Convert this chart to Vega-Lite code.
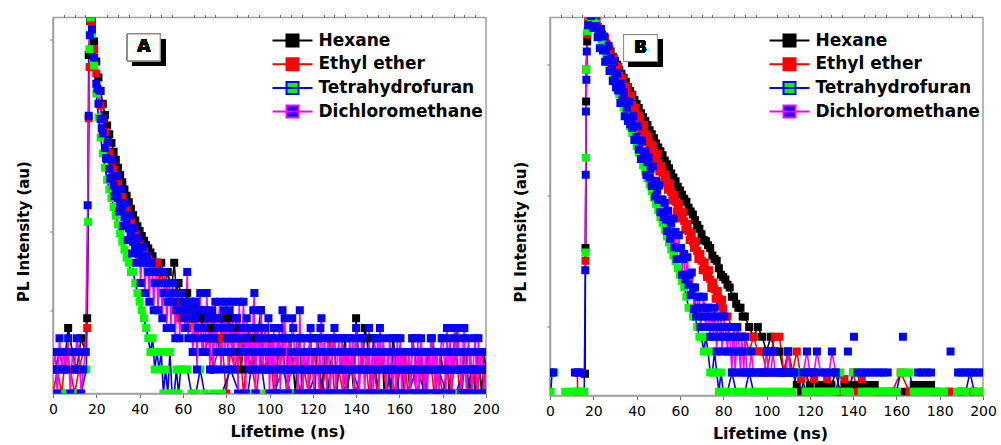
{
"$schema": "https://vega.github.io/schema/vega-lite/v6.json",
"padding": {"left": 15, "top": 12.5, "right": 5, "bottom": 0},
"bounds": "flush",
"spacing": 64,
"datasets": {
"a": [
{"s":"H","t":1,"v":2},{"s":"H","t":3,"v":3.3},{"s":"H","t":5,"v":2},{"s":"H","t":7,"v":6.6},{"s":"H","t":9,"v":3.3},{"s":"H","t":11,"v":2},{"s":"H","t":13,"v":4.9},{"s":"H","t":15,"v":3.3},{"s":"H","t":15.8,"v":8.7},{"s":"H","t":16.5,"v":17000},{"s":"H","t":17.2,"v":45000},
{"s":"H","t":18,"v":44700},{"s":"H","t":19,"v":25100},{"s":"H","t":20,"v":14100},{"s":"H","t":21,"v":8910},{"s":"H","t":22,"v":6030},{"s":"H","t":23,"v":4170},{"s":"H","t":24,"v":3020},{"s":"H","t":25,"v":2240},{"s":"H","t":26,"v":1740},{"s":"H","t":27,"v":1350},{"s":"H","t":28,"v":1050},{"s":"H","t":29,"v":832},{"s":"H","t":30,"v":661},{"s":"H","t":31,"v":537},{"s":"H","t":32,"v":437},{"s":"H","t":33,"v":355},{"s":"H","t":34,"v":295},{"s":"H","t":35,"v":245},{"s":"H","t":36,"v":204},{"s":"H","t":37,"v":170},{"s":"H","t":38,"v":145},{"s":"H","t":39,"v":123},{"s":"H","t":40,"v":107},{"s":"H","t":41,"v":93},{"s":"H","t":42,"v":81},{"s":"H","t":43,"v":72},{"s":"H","t":44,"v":65},{"s":"H","t":45,"v":58},{"s":"H","t":46,"v":52},{"s":"H","t":47,"v":43},{"s":"H","t":48,"v":43},{"s":"H","t":49,"v":33},{"s":"H","t":50,"v":43},{"s":"H","t":51,"v":33},{"s":"H","t":52,"v":24},{"s":"H","t":53,"v":33},{"s":"H","t":54,"v":24},{"s":"H","t":55,"v":24},{"s":"H","t":56,"v":43},{"s":"H","t":57,"v":18},{"s":"H","t":58,"v":24},{"s":"H","t":59,"v":18},{"s":"H","t":60,"v":14},
{"s":"H","t":61,"v":11},{"s":"H","t":62,"v":18},{"s":"H","t":63,"v":14},{"s":"H","t":64,"v":11},{"s":"H","t":65,"v":8.7},{"s":"H","t":66,"v":14},{"s":"H","t":67,"v":11},{"s":"H","t":68,"v":8.7},{"s":"H","t":69,"v":6.6},{"s":"H","t":70,"v":11},{"s":"H","t":71,"v":8.7},{"s":"H","t":72,"v":6.6},{"s":"H","t":73,"v":4.9},{"s":"H","t":74,"v":8.7},{"s":"H","t":75,"v":6.6},{"s":"H","t":76,"v":4.9},{"s":"H","t":77,"v":3.3},{"s":"H","t":78,"v":8.7},{"s":"H","t":79,"v":4.9},{"s":"H","t":80,"v":6.6},{"s":"H","t":81,"v":8.7},{"s":"H","t":82,"v":4.9},{"s":"H","t":83,"v":3.3},{"s":"H","t":84,"v":6.6},{"s":"H","t":85,"v":4.9},{"s":"H","t":86,"v":3.3},{"s":"H","t":87,"v":2},{"s":"H","t":88,"v":4.9},{"s":"H","t":89,"v":3.3},{"s":"H","t":90,"v":6.6},{"s":"H","t":91,"v":4.9},{"s":"H","t":92,"v":3.3},{"s":"H","t":93,"v":2},{"s":"H","t":94,"v":4.9},{"s":"H","t":95,"v":6.6},{"s":"H","t":96,"v":11},{"s":"H","t":97,"v":3.3},{"s":"H","t":98,"v":3.3},{"s":"H","t":99,"v":2},{"s":"H","t":100,"v":4.9},
{"s":"H","t":101,"v":4.9},{"s":"H","t":102,"v":2},{"s":"H","t":103,"v":1},{"s":"H","t":104,"v":3.3},{"s":"H","t":105,"v":3.3},{"s":"H","t":106,"v":4.9},{"s":"H","t":107,"v":2},{"s":"H","t":108,"v":2},{"s":"H","t":109,"v":4.9},{"s":"H","t":110,"v":3.3},{"s":"H","t":111,"v":2},{"s":"H","t":112,"v":1},{"s":"H","t":113,"v":3.3},{"s":"H","t":114,"v":4.9},{"s":"H","t":115,"v":1},{"s":"H","t":116,"v":2},{"s":"H","t":117,"v":2},{"s":"H","t":118,"v":3.3},{"s":"H","t":119,"v":4.9},{"s":"H","t":120,"v":2},{"s":"H","t":121,"v":1},{"s":"H","t":122,"v":4.9},{"s":"H","t":123,"v":3.3},{"s":"H","t":124,"v":1},{"s":"H","t":125,"v":2},{"s":"H","t":126,"v":3.3},{"s":"H","t":127,"v":1},{"s":"H","t":128,"v":2},{"s":"H","t":129,"v":3.3},{"s":"H","t":130,"v":4.9},{"s":"H","t":131,"v":1},{"s":"H","t":132,"v":2},{"s":"H","t":133,"v":2},{"s":"H","t":134,"v":3.3},{"s":"H","t":135,"v":4.9},{"s":"H","t":136,"v":1},{"s":"H","t":137,"v":2},{"s":"H","t":138,"v":2},{"s":"H","t":139,"v":1},{"s":"H","t":140,"v":8.7},{"s":"H","t":141,"v":3.3},{"s":"H","t":142,"v":3.3},{"s":"H","t":143,"v":2},{"s":"H","t":144,"v":6.6},{"s":"H","t":145,"v":4.9},{"s":"H","t":146,"v":2},{"s":"H","t":147,"v":1},{"s":"H","t":148,"v":4.9},{"s":"H","t":149,"v":2},{"s":"H","t":150,"v":1},
{"s":"H","t":151,"v":3.3},{"s":"H","t":152,"v":3.3},{"s":"H","t":153,"v":1},{"s":"H","t":154,"v":2},{"s":"H","t":155,"v":2},{"s":"H","t":156,"v":1},{"s":"H","t":157,"v":4.9},{"s":"H","t":158,"v":3.3},{"s":"H","t":159,"v":1},{"s":"H","t":160,"v":2},{"s":"H","t":161,"v":3.3},{"s":"H","t":162,"v":1},{"s":"H","t":163,"v":2},{"s":"H","t":164,"v":2},{"s":"H","t":165,"v":1},{"s":"H","t":166,"v":4.9},{"s":"H","t":167,"v":3.3},{"s":"H","t":168,"v":2},{"s":"H","t":169,"v":2},{"s":"H","t":170,"v":3.3},{"s":"H","t":171,"v":1},{"s":"H","t":172,"v":1},{"s":"H","t":173,"v":3.3},{"s":"H","t":174,"v":2},{"s":"H","t":175,"v":2},{"s":"H","t":176,"v":3.3},{"s":"H","t":177,"v":1},{"s":"H","t":178,"v":1},{"s":"H","t":179,"v":3.3},{"s":"H","t":180,"v":2},{"s":"H","t":181,"v":2},{"s":"H","t":182,"v":3.3},{"s":"H","t":183,"v":1},{"s":"H","t":184,"v":2},{"s":"H","t":185,"v":3.3},{"s":"H","t":186,"v":6.6},{"s":"H","t":187,"v":2},{"s":"H","t":188,"v":2},{"s":"H","t":189,"v":1},{"s":"H","t":190,"v":3.3},{"s":"H","t":191,"v":3.3},{"s":"H","t":192,"v":1},{"s":"H","t":193,"v":2},{"s":"H","t":194,"v":2},{"s":"H","t":195,"v":1},{"s":"H","t":196,"v":3.3},{"s":"H","t":197,"v":2},{"s":"H","t":198,"v":1},{"s":"H","t":199,"v":3.3},{"s":"H","t":200,"v":2},
{"s":"E","t":0,"v":1},{"s":"E","t":2,"v":2},{"s":"E","t":4,"v":1},{"s":"E","t":6,"v":3.3},{"s":"E","t":8,"v":2},{"s":"E","t":10,"v":1},{"s":"E","t":12,"v":2},{"s":"E","t":14,"v":3.3},{"s":"E","t":15.8,"v":6.6},{"s":"E","t":16.5,"v":2760},{"s":"E","t":16.9,"v":12000},{"s":"E","t":17.5,"v":45000},
{"s":"E","t":18,"v":39800},{"s":"E","t":19,"v":20000},{"s":"E","t":20,"v":10000},{"s":"E","t":21,"v":6030},{"s":"E","t":22,"v":3980},{"s":"E","t":23,"v":2690},{"s":"E","t":24,"v":1860},{"s":"E","t":25,"v":1350},{"s":"E","t":26,"v":1020},{"s":"E","t":27,"v":794},{"s":"E","t":28,"v":631},{"s":"E","t":29,"v":513},{"s":"E","t":30,"v":417},{"s":"E","t":31,"v":347},{"s":"E","t":32,"v":288},{"s":"E","t":33,"v":240},{"s":"E","t":34,"v":200},{"s":"E","t":35,"v":166},{"s":"E","t":36,"v":138},{"s":"E","t":37,"v":115},{"s":"E","t":38,"v":98},{"s":"E","t":39,"v":85},{"s":"E","t":40,"v":74},{"s":"E","t":41,"v":66},{"s":"E","t":42,"v":59},{"s":"E","t":43,"v":52},{"s":"E","t":44,"v":48},{"s":"E","t":45,"v":44},{"s":"E","t":46,"v":40},{"s":"E","t":47,"v":33},{"s":"E","t":48,"v":43},{"s":"E","t":49,"v":24},{"s":"E","t":50,"v":33},{"s":"E","t":51,"v":24},{"s":"E","t":52,"v":18},{"s":"E","t":53,"v":24},{"s":"E","t":54,"v":14},{"s":"E","t":55,"v":18},{"s":"E","t":56,"v":14},{"s":"E","t":57,"v":11},{"s":"E","t":58,"v":14},{"s":"E","t":59,"v":8.7},{"s":"E","t":60,"v":11},
{"s":"E","t":62,"v":6.6},{"s":"E","t":64,"v":8.7},{"s":"E","t":66,"v":4.9},{"s":"E","t":68,"v":6.6},{"s":"E","t":70,"v":3.3},{"s":"E","t":72,"v":4.9},{"s":"E","t":74,"v":2},{"s":"E","t":76,"v":3.3},{"s":"E","t":78,"v":4.9},{"s":"E","t":80,"v":1},{"s":"E","t":82,"v":3.3},{"s":"E","t":84,"v":2},{"s":"E","t":86,"v":4.9},{"s":"E","t":88,"v":1},{"s":"E","t":90,"v":3.3},{"s":"E","t":92,"v":2},{"s":"E","t":94,"v":1},{"s":"E","t":96,"v":3.3},{"s":"E","t":98,"v":2},{"s":"E","t":100,"v":4.9},{"s":"E","t":102,"v":1},{"s":"E","t":104,"v":2},{"s":"E","t":106,"v":3.3},{"s":"E","t":108,"v":1},{"s":"E","t":110,"v":2},{"s":"E","t":112,"v":3.3},{"s":"E","t":114,"v":1},{"s":"E","t":116,"v":2},{"s":"E","t":118,"v":1},{"s":"E","t":120,"v":3.3},{"s":"E","t":122,"v":2},{"s":"E","t":124,"v":1},{"s":"E","t":126,"v":2},{"s":"E","t":128,"v":4.9},{"s":"E","t":130,"v":1},{"s":"E","t":132,"v":2},{"s":"E","t":134,"v":1},{"s":"E","t":136,"v":3.3},{"s":"E","t":138,"v":2},{"s":"E","t":140,"v":1},{"s":"E","t":142,"v":2},{"s":"E","t":144,"v":3.3},{"s":"E","t":146,"v":1},{"s":"E","t":148,"v":2},{"s":"E","t":150,"v":1},{"s":"E","t":152,"v":3.3},{"s":"E","t":154,"v":1},{"s":"E","t":156,"v":2},{"s":"E","t":158,"v":1},{"s":"E","t":160,"v":2},{"s":"E","t":162,"v":3.3},{"s":"E","t":164,"v":1},{"s":"E","t":166,"v":2},{"s":"E","t":168,"v":1},{"s":"E","t":170,"v":2},{"s":"E","t":172,"v":1},{"s":"E","t":174,"v":3.3},{"s":"E","t":176,"v":1},{"s":"E","t":178,"v":2},{"s":"E","t":180,"v":1},{"s":"E","t":182,"v":2},{"s":"E","t":184,"v":1},{"s":"E","t":186,"v":3.3},{"s":"E","t":188,"v":1},{"s":"E","t":190,"v":2},{"s":"E","t":192,"v":1},{"s":"E","t":194,"v":2},{"s":"E","t":196,"v":1},{"s":"E","t":198,"v":3.3},{"s":"E","t":200,"v":1},
{"s":"T","t":1,"v":1},{"s":"T","t":5,"v":1},{"s":"T","t":9,"v":1},{"s":"T","t":13,"v":1},{"s":"T","t":15.4,"v":2},{"s":"T","t":16.2,"v":139},{"s":"T","t":16.8,"v":20000},{"s":"T","t":17.4,"v":50000},
{"s":"T","t":18,"v":31600},{"s":"T","t":19,"v":12600},{"s":"T","t":20,"v":5620},{"s":"T","t":21,"v":2820},{"s":"T","t":22,"v":1580},{"s":"T","t":23,"v":1000},{"s":"T","t":24,"v":661},{"s":"T","t":25,"v":468},{"s":"T","t":26,"v":355},{"s":"T","t":27,"v":275},{"s":"T","t":28,"v":214},{"s":"T","t":29,"v":166},{"s":"T","t":30,"v":129},{"s":"T","t":31,"v":100},{"s":"T","t":32,"v":79},{"s":"T","t":33,"v":63},{"s":"T","t":34,"v":50},{"s":"T","t":35,"v":43},{"s":"T","t":36,"v":33},{"s":"T","t":37,"v":33},{"s":"T","t":38,"v":24},{"s":"T","t":39,"v":18},{"s":"T","t":40,"v":14},{"s":"T","t":41,"v":11},{"s":"T","t":42,"v":8.7},{"s":"T","t":43,"v":6.6},{"s":"T","t":44,"v":4.9},{"s":"T","t":45,"v":3.3},{"s":"T","t":46,"v":4.9},{"s":"T","t":47,"v":2},{"s":"T","t":48,"v":3.3},{"s":"T","t":49,"v":2},{"s":"T","t":50,"v":3.3},{"s":"T","t":51,"v":1},{"s":"T","t":52,"v":2},{"s":"T","t":53,"v":1},{"s":"T","t":54,"v":3.3},{"s":"T","t":55,"v":1},{"s":"T","t":56,"v":1},{"s":"T","t":57,"v":2},{"s":"T","t":58,"v":1},{"s":"T","t":59,"v":2},{"s":"T","t":60,"v":2},
{"s":"T","t":62,"v":2},{"s":"T","t":64,"v":1},{"s":"T","t":66,"v":1},{"s":"T","t":68,"v":2},{"s":"T","t":70,"v":1},{"s":"T","t":74,"v":1},{"s":"T","t":78,"v":1},{"s":"T","t":82,"v":2},{"s":"T","t":86,"v":1},{"s":"T","t":90,"v":1},{"s":"T","t":94,"v":6.6},{"s":"T","t":98,"v":1},{"s":"T","t":102,"v":1},{"s":"T","t":106,"v":2},{"s":"T","t":110,"v":1},{"s":"T","t":114,"v":1},{"s":"T","t":118,"v":1},{"s":"T","t":122,"v":2},{"s":"T","t":126,"v":1},{"s":"T","t":130,"v":1},{"s":"T","t":134,"v":1},{"s":"T","t":138,"v":2},{"s":"T","t":142,"v":1},{"s":"T","t":146,"v":1},{"s":"T","t":150,"v":1},{"s":"T","t":154,"v":1},{"s":"T","t":157,"v":3.3},{"s":"T","t":160,"v":1},{"s":"T","t":164,"v":1},{"s":"T","t":168,"v":2},{"s":"T","t":172,"v":1},{"s":"T","t":175,"v":4.9},{"s":"T","t":178,"v":2},{"s":"T","t":182,"v":1},{"s":"T","t":186,"v":1},{"s":"T","t":190,"v":2},{"s":"T","t":194,"v":1},{"s":"T","t":198,"v":1},
{"s":"D","t":0,"v":2},{"s":"D","t":1,"v":3.3},{"s":"D","t":2,"v":1},{"s":"D","t":3,"v":4.9},{"s":"D","t":4,"v":2},{"s":"D","t":5,"v":3.3},{"s":"D","t":6,"v":2},{"s":"D","t":7,"v":4.9},{"s":"D","t":8,"v":1},{"s":"D","t":9,"v":3.3},{"s":"D","t":10,"v":2},{"s":"D","t":11,"v":4.9},{"s":"D","t":12,"v":3.3},{"s":"D","t":13,"v":1},{"s":"D","t":14,"v":2},{"s":"D","t":15,"v":3.3},
{"s":"D","t":16,"v":225},{"s":"D","t":16.5,"v":2950},{"s":"D","t":17,"v":30000},{"s":"D","t":17.6,"v":60000},
{"s":"D","t":18,"v":35500},{"s":"D","t":19,"v":15800},{"s":"D","t":20,"v":7410},{"s":"D","t":21,"v":4170},{"s":"D","t":22,"v":2690},{"s":"D","t":23,"v":1780},{"s":"D","t":24,"v":1170},{"s":"D","t":25,"v":851},{"s":"D","t":26,"v":646},{"s":"D","t":27,"v":501},{"s":"D","t":28,"v":398},{"s":"D","t":29,"v":324},{"s":"D","t":30,"v":275},{"s":"D","t":31,"v":234},{"s":"D","t":32,"v":195},{"s":"D","t":33,"v":162},{"s":"D","t":34,"v":138},{"s":"D","t":35,"v":115},{"s":"D","t":36,"v":95},{"s":"D","t":37,"v":79},{"s":"D","t":38,"v":69},{"s":"D","t":39,"v":62},{"s":"D","t":40,"v":55},{"s":"D","t":41,"v":50},{"s":"D","t":42,"v":43},{"s":"D","t":43,"v":43},{"s":"D","t":44,"v":33},{"s":"D","t":45,"v":43},{"s":"D","t":46,"v":33},{"s":"D","t":47,"v":24},{"s":"D","t":48,"v":33},{"s":"D","t":49,"v":24},{"s":"D","t":50,"v":24},{"s":"D","t":51,"v":18},{"s":"D","t":52,"v":24},{"s":"D","t":53,"v":14},{"s":"D","t":54,"v":18},{"s":"D","t":55,"v":24},{"s":"D","t":56,"v":14},{"s":"D","t":57,"v":11},{"s":"D","t":58,"v":18},{"s":"D","t":59,"v":11},{"s":"D","t":60,"v":14},
{"s":"D","t":20.5,"v":6453},{"s":"D","t":21.5,"v":6096},{"s":"D","t":22.5,"v":2062},{"s":"D","t":23.5,"v":2724},{"s":"D","t":24.5,"v":879},{"s":"D","t":25.5,"v":1381},{"s":"D","t":26.5,"v":479},{"s":"D","t":27.5,"v":822},{"s":"D","t":28.5,"v":292},{"s":"D","t":29.5,"v":519},{"s":"D","t":30.5,"v":188},{"s":"D","t":31.5,"v":354},{"s":"D","t":32.5,"v":124},{"s":"D","t":33.5,"v":240},{"s":"D","t":34.5,"v":83},{"s":"D","t":35.5,"v":168},{"s":"D","t":36.5,"v":56},{"s":"D","t":37.5,"v":116},{"s":"D","t":38.5,"v":43},{"s":"D","t":39.5,"v":87},{"s":"D","t":40.5,"v":24},{"s":"D","t":41.5,"v":68},{"s":"D","t":42.5,"v":18},{"s":"D","t":43.5,"v":52},{"s":"D","t":44.5,"v":14},{"s":"D","t":45.5,"v":43},{"s":"D","t":46.5,"v":11},{"s":"D","t":47.5,"v":33},{"s":"D","t":48.5,"v":11},{"s":"D","t":49.5,"v":24},{"s":"D","t":50.5,"v":8.7},{"s":"D","t":51.5,"v":33},{"s":"D","t":52.5,"v":6.6},{"s":"D","t":53.5,"v":24},{"s":"D","t":54.5,"v":6.6},{"s":"D","t":55.5,"v":24},{"s":"D","t":56.5,"v":4.9},{"s":"D","t":57.5,"v":18},{"s":"D","t":58.5,"v":4.9},{"s":"D","t":59.5,"v":18},
{"s":"D","t":61,"v":6.6},{"s":"D","t":62,"v":33},{"s":"D","t":63,"v":8.7},{"s":"D","t":64,"v":11},{"s":"D","t":65,"v":4.9},{"s":"D","t":66,"v":14},{"s":"D","t":67,"v":6.6},{"s":"D","t":68,"v":18},{"s":"D","t":69,"v":3.3},{"s":"D","t":70,"v":11},{"s":"D","t":71,"v":18},{"s":"D","t":72,"v":4.9},{"s":"D","t":73,"v":8.7},{"s":"D","t":74,"v":2},{"s":"D","t":75,"v":14},{"s":"D","t":76,"v":6.6},{"s":"D","t":77,"v":14},{"s":"D","t":78,"v":3.3},{"s":"D","t":79,"v":11},{"s":"D","t":80,"v":14},{"s":"D","t":81,"v":2},{"s":"D","t":82,"v":6.6},{"s":"D","t":83,"v":14},{"s":"D","t":84,"v":4.9},{"s":"D","t":85,"v":8.7},{"s":"D","t":86,"v":14},{"s":"D","t":87,"v":3.3},{"s":"D","t":88,"v":14},{"s":"D","t":89,"v":1},{"s":"D","t":90,"v":4.9},{"s":"D","t":91,"v":6.6},{"s":"D","t":92,"v":2},{"s":"D","t":93,"v":18},{"s":"D","t":94,"v":3.3},{"s":"D","t":95,"v":4.9},{"s":"D","t":96,"v":11},{"s":"D","t":97,"v":2},{"s":"D","t":98,"v":6.6},{"s":"D","t":99,"v":3.3},{"s":"D","t":100,"v":1},
{"s":"D","t":101,"v":4.9},{"s":"D","t":102,"v":6.6},{"s":"D","t":103,"v":2},{"s":"D","t":104,"v":3.3},{"s":"D","t":105,"v":1},{"s":"D","t":106,"v":11},{"s":"D","t":107,"v":8.7},{"s":"D","t":108,"v":2},{"s":"D","t":109,"v":4.9},{"s":"D","t":110,"v":3.3},{"s":"D","t":111,"v":6.6},{"s":"D","t":112,"v":2},{"s":"D","t":113,"v":1},{"s":"D","t":114,"v":11},{"s":"D","t":115,"v":3.3},{"s":"D","t":116,"v":4.9},{"s":"D","t":117,"v":2},{"s":"D","t":118,"v":1},{"s":"D","t":119,"v":6.6},{"s":"D","t":120,"v":3.3},{"s":"D","t":121,"v":2},{"s":"D","t":122,"v":4.9},{"s":"D","t":123,"v":1},{"s":"D","t":124,"v":8.7},{"s":"D","t":125,"v":3.3},{"s":"D","t":126,"v":2},{"s":"D","t":127,"v":4.9},{"s":"D","t":128,"v":1},{"s":"D","t":129,"v":3.3},{"s":"D","t":130,"v":6.6},{"s":"D","t":131,"v":2},{"s":"D","t":132,"v":4.9},{"s":"D","t":133,"v":3.3},{"s":"D","t":134,"v":1},{"s":"D","t":135,"v":2},{"s":"D","t":136,"v":3.3},{"s":"D","t":137,"v":4.9},{"s":"D","t":138,"v":2},{"s":"D","t":139,"v":1},{"s":"D","t":140,"v":6.6},{"s":"D","t":141,"v":3.3},{"s":"D","t":142,"v":2},{"s":"D","t":143,"v":4.9},{"s":"D","t":144,"v":1},{"s":"D","t":145,"v":3.3},{"s":"D","t":146,"v":6.6},{"s":"D","t":147,"v":2},{"s":"D","t":148,"v":1},{"s":"D","t":149,"v":3.3},{"s":"D","t":150,"v":4.9},
{"s":"D","t":151,"v":6.6},{"s":"D","t":152,"v":2},{"s":"D","t":153,"v":3.3},{"s":"D","t":154,"v":1},{"s":"D","t":155,"v":2},{"s":"D","t":156,"v":3.3},{"s":"D","t":157,"v":1},{"s":"D","t":158,"v":2},{"s":"D","t":159,"v":4.9},{"s":"D","t":160,"v":3.3},{"s":"D","t":161,"v":1},{"s":"D","t":162,"v":2},{"s":"D","t":163,"v":3.3},{"s":"D","t":164,"v":2},{"s":"D","t":165,"v":1},{"s":"D","t":166,"v":4.9},{"s":"D","t":167,"v":3.3},{"s":"D","t":168,"v":2},{"s":"D","t":169,"v":1},{"s":"D","t":170,"v":4.9},{"s":"D","t":171,"v":2},{"s":"D","t":172,"v":3.3},{"s":"D","t":173,"v":1},{"s":"D","t":174,"v":2},{"s":"D","t":175,"v":4.9},{"s":"D","t":176,"v":3.3},{"s":"D","t":177,"v":2},{"s":"D","t":178,"v":1},{"s":"D","t":179,"v":3.3},{"s":"D","t":180,"v":4.9},{"s":"D","t":181,"v":2},{"s":"D","t":182,"v":6.6},{"s":"D","t":183,"v":3.3},{"s":"D","t":184,"v":1},{"s":"D","t":185,"v":2},{"s":"D","t":186,"v":4.9},{"s":"D","t":187,"v":6.6},{"s":"D","t":188,"v":3.3},{"s":"D","t":189,"v":2},{"s":"D","t":190,"v":6.6},{"s":"D","t":191,"v":1},{"s":"D","t":192,"v":4.9},{"s":"D","t":193,"v":3.3},{"s":"D","t":194,"v":2},{"s":"D","t":195,"v":4.9},{"s":"D","t":196,"v":1},{"s":"D","t":197,"v":2},{"s":"D","t":198,"v":3.3},{"s":"D","t":199,"v":1},{"s":"D","t":200,"v":2},
{"s":"D","t":60.5,"v":8.7},{"s":"D","t":61.5,"v":11},{"s":"D","t":62.5,"v":4.9},{"s":"D","t":63.5,"v":14},{"s":"D","t":64.5,"v":3.3},{"s":"D","t":65.5,"v":8.7},{"s":"D","t":66.5,"v":2},{"s":"D","t":67.5,"v":11},{"s":"D","t":68.5,"v":4.9},{"s":"D","t":69.5,"v":6.6},{"s":"D","t":70.5,"v":3.3},{"s":"D","t":71.5,"v":8.7},{"s":"D","t":72.5,"v":2},{"s":"D","t":73.5,"v":11},{"s":"D","t":74.5,"v":4.9},{"s":"D","t":75.5,"v":3.3},{"s":"D","t":76.5,"v":8.7},{"s":"D","t":77.5,"v":2},{"s":"D","t":78.5,"v":6.6},{"s":"D","t":79.5,"v":3.3},{"s":"D","t":80.5,"v":4.9},{"s":"D","t":81.5,"v":11},{"s":"D","t":82.5,"v":3.3},{"s":"D","t":83.5,"v":2},{"s":"D","t":84.5,"v":8.7},{"s":"D","t":85.5,"v":1},{"s":"D","t":86.5,"v":4.9},{"s":"D","t":87.5,"v":6.6},{"s":"D","t":88.5,"v":3.3},{"s":"D","t":89.5,"v":8.7},{"s":"D","t":90.5,"v":2},{"s":"D","t":91.5,"v":3.3},{"s":"D","t":92.5,"v":11},{"s":"D","t":93.5,"v":1},{"s":"D","t":94.5,"v":6.6},{"s":"D","t":95.5,"v":2},{"s":"D","t":96.5,"v":3.3},{"s":"D","t":97.5,"v":4.9},{"s":"D","t":98.5,"v":2},{"s":"D","t":99.5,"v":8.7},
{"s":"D","t":100.5,"v":3.3},{"s":"D","t":101.5,"v":2},{"s":"D","t":102.5,"v":1},{"s":"D","t":103.5,"v":4.9},{"s":"D","t":104.5,"v":6.6},{"s":"D","t":105.5,"v":3.3},{"s":"D","t":106.5,"v":2},{"s":"D","t":107.5,"v":4.9},{"s":"D","t":108.5,"v":1},{"s":"D","t":109.5,"v":2},{"s":"D","t":110.5,"v":8.7},{"s":"D","t":111.5,"v":3.3},{"s":"D","t":112.5,"v":4.9},{"s":"D","t":113.5,"v":2},{"s":"D","t":114.5,"v":3.3},{"s":"D","t":115.5,"v":1},{"s":"D","t":116.5,"v":2},{"s":"D","t":117.5,"v":3.3},{"s":"D","t":118.5,"v":4.9},{"s":"D","t":119.5,"v":2},{"s":"D","t":120.5,"v":1},{"s":"D","t":121.5,"v":3.3},{"s":"D","t":122.5,"v":2},{"s":"D","t":123.5,"v":6.6},{"s":"D","t":124.5,"v":2},{"s":"D","t":125.5,"v":4.9},{"s":"D","t":126.5,"v":1},{"s":"D","t":127.5,"v":3.3},{"s":"D","t":128.5,"v":2},{"s":"D","t":129.5,"v":4.9},{"s":"D","t":130.5,"v":1},{"s":"D","t":131.5,"v":3.3},{"s":"D","t":132.5,"v":2},{"s":"D","t":133.5,"v":4.9},{"s":"D","t":134.5,"v":3.3},{"s":"D","t":135.5,"v":1},{"s":"D","t":136.5,"v":2},{"s":"D","t":137.5,"v":3.3},{"s":"D","t":138.5,"v":4.9},{"s":"D","t":139.5,"v":2},
{"s":"D","t":140.5,"v":3.3},{"s":"D","t":141.5,"v":1},{"s":"D","t":142.5,"v":4.9},{"s":"D","t":143.5,"v":2},{"s":"D","t":144.5,"v":3.3},{"s":"D","t":145.5,"v":2},{"s":"D","t":146.5,"v":1},{"s":"D","t":147.5,"v":3.3},{"s":"D","t":148.5,"v":4.9},{"s":"D","t":149.5,"v":2},{"s":"D","t":150.5,"v":1},{"s":"D","t":151.5,"v":3.3},{"s":"D","t":152.5,"v":4.9},{"s":"D","t":153.5,"v":2},{"s":"D","t":154.5,"v":3.3},{"s":"D","t":155.5,"v":4.9},{"s":"D","t":156.5,"v":2},{"s":"D","t":157.5,"v":3.3},{"s":"D","t":158.5,"v":1},{"s":"D","t":159.5,"v":2},{"s":"D","t":160.5,"v":4.9},{"s":"D","t":161.5,"v":3.3},{"s":"D","t":162.5,"v":1},{"s":"D","t":163.5,"v":2},{"s":"D","t":164.5,"v":3.3},{"s":"D","t":165.5,"v":2},{"s":"D","t":166.5,"v":3.3},{"s":"D","t":167.5,"v":1},{"s":"D","t":168.5,"v":4.9},{"s":"D","t":169.5,"v":2},{"s":"D","t":170.5,"v":3.3},{"s":"D","t":171.5,"v":1},{"s":"D","t":172.5,"v":2},{"s":"D","t":173.5,"v":3.3},{"s":"D","t":174.5,"v":4.9},{"s":"D","t":175.5,"v":2},{"s":"D","t":176.5,"v":1},{"s":"D","t":177.5,"v":3.3},{"s":"D","t":178.5,"v":2},{"s":"D","t":179.5,"v":4.9},
{"s":"D","t":180.5,"v":3.3},{"s":"D","t":181.5,"v":1},{"s":"D","t":182.5,"v":2},{"s":"D","t":183.5,"v":4.9},{"s":"D","t":184.5,"v":3.3},{"s":"D","t":185.5,"v":6.6},{"s":"D","t":186.5,"v":2},{"s":"D","t":187.5,"v":3.3},{"s":"D","t":188.5,"v":1},{"s":"D","t":189.5,"v":4.9},{"s":"D","t":190.5,"v":2},{"s":"D","t":191.5,"v":3.3},{"s":"D","t":192.5,"v":2},{"s":"D","t":193.5,"v":1},{"s":"D","t":194.5,"v":3.3},{"s":"D","t":195.5,"v":2},{"s":"D","t":196.5,"v":4.9},{"s":"D","t":197.5,"v":3.3},{"s":"D","t":198.5,"v":2},{"s":"D","t":199.5,"v":1}
],
"b": [
{"s":"H","t":16.2,"v":4.4},{"s":"H","t":16.4,"v":40},{"s":"H","t":16.7,"v":525},{"s":"H","t":17.2,"v":1500},{"s":"H","t":17.8,"v":2200},{"s":"H","t":18.6,"v":2400},
{"s":"H","t":19,"v":2340},{"s":"H","t":20,"v":2290},{"s":"H","t":21,"v":2140},{"s":"H","t":22,"v":1950},{"s":"H","t":23,"v":1820},{"s":"H","t":24,"v":1700},{"s":"H","t":25,"v":1550},{"s":"H","t":26,"v":1445},{"s":"H","t":27,"v":1350},{"s":"H","t":28,"v":1260},{"s":"H","t":29,"v":1150},{"s":"H","t":30,"v":1070},{"s":"H","t":31,"v":1000},{"s":"H","t":32,"v":912},{"s":"H","t":33,"v":851},{"s":"H","t":34,"v":794},{"s":"H","t":35,"v":741},{"s":"H","t":36,"v":676},{"s":"H","t":37,"v":631},{"s":"H","t":38,"v":589},{"s":"H","t":39,"v":537},{"s":"H","t":40,"v":501},{"s":"H","t":41,"v":468},{"s":"H","t":42,"v":427},{"s":"H","t":43,"v":398},{"s":"H","t":44,"v":372},{"s":"H","t":45,"v":347},{"s":"H","t":46,"v":316},{"s":"H","t":47,"v":295},{"s":"H","t":48,"v":275},{"s":"H","t":49,"v":251},{"s":"H","t":50,"v":234},{"s":"H","t":51,"v":219},{"s":"H","t":52,"v":204},{"s":"H","t":53,"v":186},{"s":"H","t":54,"v":174},{"s":"H","t":55,"v":162},{"s":"H","t":56,"v":148},{"s":"H","t":57,"v":138},{"s":"H","t":58,"v":129},{"s":"H","t":59,"v":117},{"s":"H","t":60,"v":110},{"s":"H","t":61,"v":102},{"s":"H","t":62,"v":95},{"s":"H","t":63,"v":90},{"s":"H","t":64,"v":81},{"s":"H","t":65,"v":76},{"s":"H","t":66,"v":72},{"s":"H","t":67,"v":65},{"s":"H","t":68,"v":60},{"s":"H","t":69,"v":56},{"s":"H","t":70,"v":51},{"s":"H","t":71,"v":46},{"s":"H","t":72,"v":45},{"s":"H","t":73,"v":42},{"s":"H","t":74,"v":40},{"s":"H","t":75,"v":35},{"s":"H","t":76,"v":33},{"s":"H","t":77,"v":32},{"s":"H","t":78,"v":28},{"s":"H","t":79,"v":25},{"s":"H","t":80,"v":24},{"s":"H","t":81,"v":23},{"s":"H","t":82,"v":21},{"s":"H","t":83,"v":20},{"s":"H","t":84,"v":17},{"s":"H","t":85,"v":17},{"s":"H","t":86,"v":15},{"s":"H","t":87,"v":14},{"s":"H","t":88,"v":14},{"s":"H","t":89,"v":12},{"s":"H","t":90,"v":12},
{"s":"H","t":92,"v":10},{"s":"H","t":94,"v":8.4},{"s":"H","t":96,"v":10},{"s":"H","t":98,"v":8.4},{"s":"H","t":100,"v":6.5},{"s":"H","t":102,"v":8.4},{"s":"H","t":104,"v":6.5},{"s":"H","t":106,"v":6.5},{"s":"H","t":108,"v":4.5},{"s":"H","t":110,"v":6.5},{"s":"H","t":112,"v":4.5},{"s":"H","t":114,"v":3.6},{"s":"H","t":116,"v":3.2},{"s":"H","t":118,"v":4.5},{"s":"H","t":120,"v":3.6},{"s":"H","t":122,"v":4.5},{"s":"H","t":124,"v":3.6},{"s":"H","t":126,"v":3.6},{"s":"H","t":128,"v":3.6},{"s":"H","t":130,"v":3.6},{"s":"H","t":132,"v":4.5},{"s":"H","t":134,"v":3.2},{"s":"H","t":136,"v":3.6},{"s":"H","t":138,"v":3.6},{"s":"H","t":140,"v":3.6},{"s":"H","t":142,"v":3.6},{"s":"H","t":144,"v":3.6},{"s":"H","t":146,"v":3.6},{"s":"H","t":148,"v":3.6},{"s":"H","t":150,"v":3.6},{"s":"H","t":152,"v":3.2},{"s":"H","t":156,"v":3.2},{"s":"H","t":160,"v":3.2},{"s":"H","t":164,"v":3.2},{"s":"H","t":168,"v":3.6},{"s":"H","t":170,"v":3.6},{"s":"H","t":172,"v":3.6},{"s":"H","t":174,"v":3.6},{"s":"H","t":176,"v":3.6},{"s":"H","t":178,"v":3.2},{"s":"H","t":184,"v":3.2},{"s":"H","t":190,"v":3.2},{"s":"H","t":196,"v":3.2},{"s":"H","t":200,"v":3.2},
{"s":"E","t":12.6,"v":4.5},{"s":"E","t":12.8,"v":3.2},{"s":"E","t":13.5,"v":null},{"s":"E","t":16.4,"v":32},{"s":"E","t":16.7,"v":917},{"s":"E","t":17.2,"v":1700},{"s":"E","t":17.8,"v":2250},{"s":"E","t":18.6,"v":2400},
{"s":"E","t":19,"v":2340},{"s":"E","t":20,"v":2290},{"s":"E","t":21,"v":2100},{"s":"E","t":22,"v":1930},{"s":"E","t":23,"v":1770},{"s":"E","t":24,"v":1630},{"s":"E","t":25,"v":1500},{"s":"E","t":26,"v":1370},{"s":"E","t":27,"v":1260},{"s":"E","t":28,"v":1160},{"s":"E","t":29,"v":1060},{"s":"E","t":30,"v":977},{"s":"E","t":31,"v":897},{"s":"E","t":32,"v":824},{"s":"E","t":33,"v":757},{"s":"E","t":34,"v":695},{"s":"E","t":35,"v":638},{"s":"E","t":36,"v":586},{"s":"E","t":37,"v":538},{"s":"E","t":38,"v":494},{"s":"E","t":39,"v":454},{"s":"E","t":40,"v":417},{"s":"E","t":41,"v":383},{"s":"E","t":42,"v":352},{"s":"E","t":43,"v":323},{"s":"E","t":44,"v":296},{"s":"E","t":45,"v":272},{"s":"E","t":46,"v":250},{"s":"E","t":47,"v":230},{"s":"E","t":48,"v":211},{"s":"E","t":49,"v":194},{"s":"E","t":50,"v":178},{"s":"E","t":51,"v":163},{"s":"E","t":52,"v":150},{"s":"E","t":53,"v":138},{"s":"E","t":54,"v":126},{"s":"E","t":55,"v":116},{"s":"E","t":56,"v":107},{"s":"E","t":57,"v":98},{"s":"E","t":58,"v":90},{"s":"E","t":59,"v":83},{"s":"E","t":60,"v":76},{"s":"E","t":61,"v":70},{"s":"E","t":62,"v":64},{"s":"E","t":63,"v":59},{"s":"E","t":64,"v":54},{"s":"E","t":65,"v":50},{"s":"E","t":66,"v":45},{"s":"E","t":67,"v":42},{"s":"E","t":68,"v":38},{"s":"E","t":69,"v":35},{"s":"E","t":70,"v":32},{"s":"E","t":71,"v":30},{"s":"E","t":72,"v":27},{"s":"E","t":73,"v":25},{"s":"E","t":74,"v":23},{"s":"E","t":75,"v":21},{"s":"E","t":76,"v":19.4},{"s":"E","t":77,"v":17.8},{"s":"E","t":78,"v":16.4},{"s":"E","t":79,"v":15},{"s":"E","t":80,"v":13.8},
{"s":"E","t":19.5,"v":2593},{"s":"E","t":20.5,"v":1974},{"s":"E","t":21.5,"v":2174},{"s":"E","t":22.5,"v":1626},{"s":"E","t":23.5,"v":1869},{"s":"E","t":24.5,"v":1439},{"s":"E","t":25.5,"v":1606},{"s":"E","t":26.5,"v":1183},{"s":"E","t":27.5,"v":1306},{"s":"E","t":28.5,"v":976},{"s":"E","t":29.5,"v":1120},{"s":"E","t":30.5,"v":861},{"s":"E","t":31.5,"v":963},{"s":"E","t":32.5,"v":711},{"s":"E","t":33.5,"v":783},{"s":"E","t":34.5,"v":586},{"s":"E","t":35.5,"v":672},{"s":"E","t":36.5,"v":517},{"s":"E","t":37.5,"v":578},{"s":"E","t":38.5,"v":427},{"s":"E","t":39.5,"v":470},{"s":"E","t":40.5,"v":352},{"s":"E","t":41.5,"v":404},{"s":"E","t":42.5,"v":310},{"s":"E","t":43.5,"v":346},{"s":"E","t":44.5,"v":256},{"s":"E","t":45.5,"v":282},{"s":"E","t":46.5,"v":211},{"s":"E","t":47.5,"v":242},{"s":"E","t":48.5,"v":186},{"s":"E","t":49.5,"v":208},{"s":"E","t":50.5,"v":153},{"s":"E","t":51.5,"v":168},{"s":"E","t":52.5,"v":127},{"s":"E","t":53.5,"v":145},{"s":"E","t":54.5,"v":111},{"s":"E","t":55.5,"v":124},{"s":"E","t":56.5,"v":92},{"s":"E","t":57.5,"v":101},{"s":"E","t":58.5,"v":76},{"s":"E","t":59.5,"v":87},{"s":"E","t":60.5,"v":67},{"s":"E","t":61.5,"v":75},{"s":"E","t":62.5,"v":55},{"s":"E","t":63.5,"v":61},{"s":"E","t":64.5,"v":46},{"s":"E","t":65.5,"v":52},{"s":"E","t":66.5,"v":40},{"s":"E","t":67.5,"v":45},{"s":"E","t":68.5,"v":33},{"s":"E","t":69.5,"v":36},{"s":"E","t":70.5,"v":27},{"s":"E","t":71.5,"v":31},{"s":"E","t":72.5,"v":24},{"s":"E","t":73.5,"v":27},{"s":"E","t":74.5,"v":19.8},{"s":"E","t":75.5,"v":21.8},{"s":"E","t":76.5,"v":16.4},{"s":"E","t":77.5,"v":18.8},{"s":"E","t":78.5,"v":14.4},{"s":"E","t":79.5,"v":16.1},
{"s":"E","t":82,"v":12},{"s":"E","t":84,"v":10},{"s":"E","t":86,"v":10},{"s":"E","t":88,"v":8.4},{"s":"E","t":90,"v":8.4},{"s":"E","t":92,"v":6.5},{"s":"E","t":94,"v":8.4},{"s":"E","t":96,"v":6.5},{"s":"E","t":98,"v":6.5},{"s":"E","t":100,"v":4.5},{"s":"E","t":102,"v":6.5},{"s":"E","t":104,"v":8.4},{"s":"E","t":106,"v":8.4},{"s":"E","t":108,"v":4.5},{"s":"E","t":110,"v":6.5},{"s":"E","t":112,"v":4.5},{"s":"E","t":114,"v":6.5},{"s":"E","t":116,"v":4},{"s":"E","t":118,"v":4.5},{"s":"E","t":120,"v":3.2},{"s":"E","t":122,"v":4},{"s":"E","t":124,"v":3.2},{"s":"E","t":126,"v":3.2},{"s":"E","t":128,"v":4},{"s":"E","t":130,"v":3.2},{"s":"E","t":132,"v":3.2},{"s":"E","t":134,"v":3.2},{"s":"E","t":136,"v":4},{"s":"E","t":138,"v":3.2},{"s":"E","t":140,"v":4.5},{"s":"E","t":142,"v":3.2},{"s":"E","t":144,"v":4},{"s":"E","t":146,"v":3.2},{"s":"E","t":150,"v":3.2},{"s":"E","t":154,"v":3.2},{"s":"E","t":158,"v":3.2},{"s":"E","t":162,"v":4.5},{"s":"E","t":166,"v":3.2},{"s":"E","t":170,"v":3.2},{"s":"E","t":175,"v":3.2},{"s":"E","t":180,"v":3.2},{"s":"E","t":185,"v":3.2},{"s":"E","t":190,"v":3.2},{"s":"E","t":195,"v":3.2},{"s":"E","t":200,"v":3.2},
{"s":"T","t":0.3,"v":3.2},{"s":"T","t":1,"v":4.5},{"s":"T","t":2,"v":4.5},{"s":"T","t":3,"v":null},{"s":"T","t":7,"v":3.2},{"s":"T","t":9,"v":3.2},{"s":"T","t":11,"v":3.2},{"s":"T","t":13,"v":3.2},{"s":"T","t":15,"v":3.2},{"s":"T","t":15.8,"v":3.2},{"s":"T","t":16.4,"v":37},{"s":"T","t":16.6,"v":195},{"s":"T","t":16.8,"v":917},{"s":"T","t":17.3,"v":1800},{"s":"T","t":18.2,"v":2350},
{"s":"T","t":19,"v":2290},{"s":"T","t":20,"v":2290},{"s":"T","t":21,"v":2046},{"s":"T","t":22,"v":1828},{"s":"T","t":23,"v":1633},{"s":"T","t":24,"v":1459},{"s":"T","t":25,"v":1303},{"s":"T","t":26,"v":1164},{"s":"T","t":27,"v":1040},{"s":"T","t":28,"v":929},{"s":"T","t":29,"v":830},{"s":"T","t":30,"v":741},{"s":"T","t":31,"v":662},{"s":"T","t":32,"v":592},{"s":"T","t":33,"v":528},{"s":"T","t":34,"v":472},{"s":"T","t":35,"v":422},{"s":"T","t":36,"v":377},{"s":"T","t":37,"v":337},{"s":"T","t":38,"v":301},{"s":"T","t":39,"v":269},{"s":"T","t":40,"v":240},{"s":"T","t":41,"v":214},{"s":"T","t":42,"v":191},{"s":"T","t":43,"v":171},{"s":"T","t":44,"v":153},{"s":"T","t":45,"v":136},{"s":"T","t":46,"v":122},{"s":"T","t":47,"v":109},{"s":"T","t":48,"v":97},{"s":"T","t":49,"v":87},{"s":"T","t":50,"v":78},{"s":"T","t":51,"v":69},{"s":"T","t":52,"v":62},{"s":"T","t":53,"v":55},{"s":"T","t":54,"v":49},{"s":"T","t":55,"v":44},{"s":"T","t":56,"v":39},{"s":"T","t":57,"v":35},{"s":"T","t":58,"v":31.5},{"s":"T","t":59,"v":28},{"s":"T","t":60,"v":25},{"s":"T","t":61,"v":22.4},{"s":"T","t":62,"v":20},{"s":"T","t":63,"v":17},{"s":"T","t":64,"v":14},{"s":"T","t":65,"v":14},{"s":"T","t":66,"v":12},{"s":"T","t":67,"v":12},{"s":"T","t":68,"v":10},{"s":"T","t":69,"v":8.4},{"s":"T","t":70,"v":8.4},{"s":"T","t":71,"v":6.5},{"s":"T","t":72,"v":8.4},{"s":"T","t":73,"v":6.5},{"s":"T","t":74,"v":4.5},{"s":"T","t":75,"v":4.5},{"s":"T","t":76,"v":6.5},{"s":"T","t":77,"v":4.5},{"s":"T","t":78,"v":3.2},{"s":"T","t":79,"v":4.5},
{"s":"T","t":80,"v":3.2},{"s":"T","t":82,"v":3.2},{"s":"T","t":84,"v":4.5},{"s":"T","t":86,"v":3.2},{"s":"T","t":88,"v":3.2},{"s":"T","t":90,"v":3.2},{"s":"T","t":92,"v":4.5},{"s":"T","t":94,"v":3.2},{"s":"T","t":96,"v":3.2},{"s":"T","t":98,"v":3.2},{"s":"T","t":100,"v":3.2},{"s":"T","t":102,"v":3.2},{"s":"T","t":104,"v":3.2},{"s":"T","t":106,"v":3.2},{"s":"T","t":108,"v":3.2},{"s":"T","t":110,"v":3.2},{"s":"T","t":112,"v":3.2},{"s":"T","t":114,"v":4.5},{"s":"T","t":116,"v":4.5},{"s":"T","t":118,"v":3.2},{"s":"T","t":120,"v":3.2},{"s":"T","t":122,"v":3.2},{"s":"T","t":124,"v":3.2},{"s":"T","t":126,"v":3.2},{"s":"T","t":128,"v":3.2},{"s":"T","t":130,"v":3.2},{"s":"T","t":132,"v":3.2},{"s":"T","t":134,"v":4.5},{"s":"T","t":136,"v":3.2},{"s":"T","t":138,"v":3.2},{"s":"T","t":140,"v":4.5},{"s":"T","t":142,"v":4.5},{"s":"T","t":144,"v":3.2},{"s":"T","t":146,"v":3.2},{"s":"T","t":148,"v":3.2},{"s":"T","t":150,"v":3.2},{"s":"T","t":152,"v":3.2},{"s":"T","t":154,"v":3.2},{"s":"T","t":156,"v":3.2},{"s":"T","t":158,"v":3.2},{"s":"T","t":160,"v":3.2},{"s":"T","t":162,"v":4.5},{"s":"T","t":164,"v":4.5},{"s":"T","t":166,"v":4.5},{"s":"T","t":168,"v":3.2},{"s":"T","t":170,"v":3.2},{"s":"T","t":172,"v":3.2},{"s":"T","t":174,"v":3.2},{"s":"T","t":176,"v":3.2},{"s":"T","t":178,"v":3.2},{"s":"T","t":180,"v":3.2},{"s":"T","t":182,"v":3.2},{"s":"T","t":184,"v":null},{"s":"T","t":188,"v":3.2},{"s":"T","t":190,"v":3.2},{"s":"T","t":192,"v":3.2},{"s":"T","t":194,"v":4.5},{"s":"T","t":196,"v":3.2},{"s":"T","t":198,"v":3.2},{"s":"T","t":200,"v":3.2},
{"s":"D","t":0.3,"v":4.5},{"s":"D","t":1.5,"v":4.5},{"s":"D","t":2.2,"v":null},{"s":"D","t":11.5,"v":4.5},{"s":"D","t":13,"v":4.5},{"s":"D","t":14.5,"v":4.5},{"s":"D","t":15.5,"v":null},{"s":"D","t":16.3,"v":27},{"s":"D","t":16.5,"v":145},{"s":"D","t":16.6,"v":440},{"s":"D","t":16.8,"v":766},{"s":"D","t":17,"v":1260},{"s":"D","t":17.6,"v":2000},{"s":"D","t":18.6,"v":2400},{"s":"D","t":19,"v":2350},
{"s":"D","t":19.5,"v":2512},{"s":"D","t":20,"v":1905},{"s":"D","t":20.5,"v":2498},{"s":"D","t":21,"v":1972},{"s":"D","t":21.5,"v":2413},{"s":"D","t":22,"v":1622},{"s":"D","t":22.5,"v":1809},{"s":"D","t":23,"v":1334},{"s":"D","t":23.5,"v":1873},{"s":"D","t":24,"v":1660},{"s":"D","t":24.5,"v":1281},{"s":"D","t":25,"v":1641},{"s":"D","t":25.5,"v":1053},{"s":"D","t":26,"v":1288},{"s":"D","t":26.5,"v":1090},{"s":"D","t":27,"v":1396},{"s":"D","t":27.5,"v":896},{"s":"D","t":28,"v":1122},{"s":"D","t":28.5,"v":928},{"s":"D","t":29,"v":750},{"s":"D","t":29.5,"v":1053},{"s":"D","t":30,"v":813},{"s":"D","t":30.5,"v":672},{"s":"D","t":31,"v":861},{"s":"D","t":31.5,"v":635},{"s":"D","t":32,"v":708},{"s":"D","t":32.5,"v":510},{"s":"D","t":33,"v":716},{"s":"D","t":33.5,"v":540},{"s":"D","t":34,"v":617},{"s":"D","t":34.5,"v":405},{"s":"D","t":35,"v":531},{"s":"D","t":35.5,"v":470},{"s":"D","t":36,"v":372},{"s":"D","t":36.5,"v":522},{"s":"D","t":37,"v":351},{"s":"D","t":37.5,"v":391},{"s":"D","t":38,"v":331},{"s":"D","t":38.5,"v":405},{"s":"D","t":39,"v":266},{"s":"D","t":39.5,"v":341},{"s":"D","t":40,"v":282},{"s":"D","t":40.5,"v":337},{"s":"D","t":41,"v":226},{"s":"D","t":41.5,"v":265},{"s":"D","t":42,"v":191},{"s":"D","t":42.5,"v":261},{"s":"D","t":43,"v":193},{"s":"D","t":43.5,"v":201},{"s":"D","t":44,"v":219},{"s":"D","t":44.5,"v":144},{"s":"D","t":45,"v":180},{"s":"D","t":45.5,"v":196},{"s":"D","t":46,"v":138},{"s":"D","t":46.5,"v":161},{"s":"D","t":47,"v":119},{"s":"D","t":47.5,"v":167},{"s":"D","t":48,"v":120},{"s":"D","t":48.5,"v":99},{"s":"D","t":49,"v":130},{"s":"D","t":49.5,"v":110},{"s":"D","t":50,"v":93},{"s":"D","t":50.5,"v":120},{"s":"D","t":51,"v":75},{"s":"D","t":51.5,"v":94},{"s":"D","t":52,"v":93},{"s":"D","t":52.5,"v":69},{"s":"D","t":53,"v":88},{"s":"D","t":53.5,"v":66},{"s":"D","t":54,"v":54},{"s":"D","t":54.5,"v":77},{"s":"D","t":55,"v":65},{"s":"D","t":55.5,"v":47},{"s":"D","t":56,"v":62},{"s":"D","t":56.5,"v":51},{"s":"D","t":57,"v":67},{"s":"D","t":57.5,"v":40.5},{"s":"D","t":58,"v":53},{"s":"D","t":58.5,"v":33},{"s":"D","t":59,"v":40},{"s":"D","t":59.5,"v":50},{"s":"D","t":60,"v":33},{"s":"D","t":60.5,"v":40},{"s":"D","t":61,"v":25},{"s":"D","t":61.5,"v":33},{"s":"D","t":62,"v":36},{"s":"D","t":62.5,"v":23},{"s":"D","t":63,"v":25},{"s":"D","t":63.5,"v":34},{"s":"D","t":64,"v":21},{"s":"D","t":64.5,"v":25},{"s":"D","t":65,"v":17.5},{"s":"D","t":65.5,"v":26},{"s":"D","t":66,"v":20},{"s":"D","t":66.5,"v":13.7},
{"s":"D","t":67,"v":20},{"s":"D","t":67.5,"v":12},{"s":"D","t":68,"v":14},{"s":"D","t":68.5,"v":17},{"s":"D","t":69,"v":17},{"s":"D","t":69.5,"v":10},{"s":"D","t":70,"v":12},{"s":"D","t":70.5,"v":14},{"s":"D","t":71,"v":17},{"s":"D","t":71.5,"v":12},{"s":"D","t":72,"v":10},{"s":"D","t":72.5,"v":14},{"s":"D","t":73,"v":14},{"s":"D","t":73.5,"v":10},{"s":"D","t":74,"v":8.4},{"s":"D","t":74.5,"v":12},{"s":"D","t":75,"v":12},{"s":"D","t":75.5,"v":8.4},{"s":"D","t":76,"v":14},{"s":"D","t":76.5,"v":10},{"s":"D","t":77,"v":6.5},{"s":"D","t":77.5,"v":12},{"s":"D","t":78,"v":10},{"s":"D","t":78.5,"v":8.4},{"s":"D","t":79,"v":12},{"s":"D","t":79.5,"v":6.5},{"s":"D","t":80,"v":8.4},{"s":"D","t":80.5,"v":12},{"s":"D","t":81,"v":10},{"s":"D","t":81.5,"v":8.4},{"s":"D","t":82,"v":6.5},{"s":"D","t":82.5,"v":10},{"s":"D","t":83,"v":8.4},{"s":"D","t":83.5,"v":6.5},{"s":"D","t":84,"v":4.5},{"s":"D","t":84.5,"v":8.4},{"s":"D","t":85,"v":10},{"s":"D","t":85.5,"v":4.5},{"s":"D","t":86,"v":6.5},{"s":"D","t":86.5,"v":10},{"s":"D","t":87,"v":8.4},{"s":"D","t":87.5,"v":6.5},{"s":"D","t":88,"v":4.5},{"s":"D","t":88.5,"v":8.4},{"s":"D","t":89,"v":6.5},{"s":"D","t":89.5,"v":4.5},{"s":"D","t":90,"v":8.4},{"s":"D","t":91,"v":4.5},{"s":"D","t":92,"v":4.5},{"s":"D","t":93,"v":6.5},{"s":"D","t":94,"v":4.5},{"s":"D","t":95,"v":4.5},{"s":"D","t":96,"v":null},{"s":"D","t":97,"v":4.5},{"s":"D","t":98,"v":4.5},{"s":"D","t":99,"v":4.5},{"s":"D","t":100,"v":6.5},{"s":"D","t":101,"v":4.5},{"s":"D","t":102,"v":4.5},{"s":"D","t":103,"v":6.5},{"s":"D","t":104,"v":4.5},{"s":"D","t":105,"v":4.5},{"s":"D","t":106,"v":4.5},{"s":"D","t":107,"v":4.5},{"s":"D","t":108,"v":4.5},{"s":"D","t":109,"v":4.5},{"s":"D","t":110,"v":6.5},{"s":"D","t":111,"v":4.5},{"s":"D","t":112,"v":4.5},{"s":"D","t":113,"v":4.5},{"s":"D","t":114,"v":null},
{"s":"D","t":117,"v":4.5},{"s":"D","t":118.7,"v":6.5},{"s":"D","t":120,"v":4.5},{"s":"D","t":122,"v":4.5},{"s":"D","t":123.3,"v":6.5},{"s":"D","t":125,"v":4.5},{"s":"D","t":127,"v":4.5},{"s":"D","t":129,"v":4.5},{"s":"D","t":130.2,"v":6.5},{"s":"D","t":132,"v":4.5},{"s":"D","t":133.5,"v":null},{"s":"D","t":137.6,"v":6.5},{"s":"D","t":138.5,"v":null},{"s":"D","t":140.4,"v":8.4},{"s":"D","t":141.2,"v":null},{"s":"D","t":142,"v":4.5},{"s":"D","t":144,"v":4.5},{"s":"D","t":146,"v":4.5},{"s":"D","t":148,"v":4.5},{"s":"D","t":150,"v":4.5},{"s":"D","t":152,"v":4.5},{"s":"D","t":154,"v":4.5},{"s":"D","t":156,"v":4.5},{"s":"D","t":157.5,"v":null},{"s":"D","t":163,"v":8.4},{"s":"D","t":164,"v":null},{"s":"D","t":170,"v":4.5},{"s":"D","t":172,"v":4.5},{"s":"D","t":174,"v":4.5},{"s":"D","t":176,"v":4.5},{"s":"D","t":177.5,"v":null},{"s":"D","t":185,"v":6.5},{"s":"D","t":186,"v":null},{"s":"D","t":188.5,"v":4.5},{"s":"D","t":190,"v":4.5},{"s":"D","t":192,"v":4.5},{"s":"D","t":194,"v":4.5},{"s":"D","t":196,"v":4.5},{"s":"D","t":198,"v":4.5},{"s":"D","t":200,"v":4.5}
]
},
"hconcat": [
{
"width": 433, "height": 376,
"data": {"name": "a"},
"layer": [
{"mark": {"type": "line", "strokeWidth": 1.6, "clip": true, "invalid": "break-paths-filter-domains"},
 "encoding": {
  "x": {"field": "t", "type": "quantitative", "scale": {"domain": [0, 200], "nice": false},
        "axis": {"values": [0,20,40,60,80,100,120,140,160,180,200], "title": "Lifetime (ns)", "titleX": 234.5, "titlePadding": 7, "tickSize": 4, "labelPadding": 5, "labelFlush": false}},
  "y": {"field": "v", "type": "quantitative", "scale": {"type": "log", "domain": [1, 50000], "nice": false},
        "axis": {"values": [11, 106, 26900], "labels": false, "tickSize": 3, "title": "PL Intensity (au)", "titleY": 213.5, "titlePadding": 18, "titleFontSize": 15}},
  "stroke": {"field": "s", "type": "nominal",
        "scale": {"domain": ["H","E","T","D"], "range": ["#000000","#ff0000","#0000ff","#ff00ff"]},
        "legend": {"title": null, "labelExpr": "{'H':'Hexane','E':'Ethyl ether','T':'Tetrahydrofuran','D':'Dichloromethane'}[datum.label]"}}
 }},
{"mark": {"type": "point", "shape": "square", "filled": true, "size": 64, "opacity": 1, "clip": true},
 "encoding": {
  "x": {"field": "t", "type": "quantitative", "axis": {"values": [5,10,15,25,30,35,45,50,55,65,70,75,85,90,95,105,110,115,125,130,135,145,150,155,165,170,175,185,190,195], "labels": false, "title": null, "domain": false, "tickSize": 3}},
  "y": {"field": "v", "type": "quantitative", "axis": null},
  "fill": {"field": "s", "type": "nominal",
        "scale": {"domain": ["H","E","T","D"], "range": ["#000000","#ff0000","#00ff00","#0000ff"]},
        "legend": {"title": null, "labelExpr": "{'H':'Hexane','E':'Ethyl ether','T':'Tetrahydrofuran','D':'Dichloromethane'}[datum.label]"}}
 }},
{"mark": {"type": "rect", "fill": "#000000", "xOffset": 5, "x2Offset": 5, "yOffset": 5, "y2Offset": 5},
 "encoding": {"x": {"datum": 34.4, "axis": null}, "x2": {"datum": 49.5}, "y": {"datum": 31100, "axis": null}, "y2": {"datum": 14400}}},
{"mark": {"type": "rect", "fill": "#ffffff", "stroke": "#888888", "strokeWidth": 1},
 "encoding": {"x": {"datum": 34.4, "axis": null}, "x2": {"datum": 49.5}, "y": {"datum": 31100, "axis": null}, "y2": {"datum": 14400}}},
{"mark": {"type": "text", "font": "DejaVu Sans", "fontWeight": "bold", "fontSize": 17, "align": "center", "baseline": "middle", "color": "#000000"},
 "encoding": {"x": {"datum": 41.9, "axis": null}, "y": {"datum": 21100, "axis": null}, "text": {"value": "A"}}}
],
"resolve": {"axis": {"x": "independent", "y": "independent"}}
},
{
"width": 433, "height": 378,
"data": {"name": "b"},
"layer": [
{"mark": {"type": "line", "strokeWidth": 1.6, "clip": true, "invalid": "break-paths-filter-domains"},
 "encoding": {
  "x": {"field": "t", "type": "quantitative", "scale": {"domain": [0, 200], "nice": false},
        "axis": {"values": [0,20,40,60,80,100,120,140,160,180,200], "title": "Lifetime (ns)", "titleX": 220, "titlePadding": 7, "tickSize": 4, "labelPadding": 5, "labelFlush": false}},
  "y": {"field": "v", "type": "quantitative", "scale": {"type": "log", "domain": [3, 2290], "nice": false},
        "axis": {"values": [10, 100, 1000], "labels": false, "tickSize": 3, "title": "PL Intensity (au)", "titleY": 214, "titlePadding": 18, "titleFontSize": 15}},
  "stroke": {"field": "s", "type": "nominal",
        "scale": {"domain": ["H","E","T","D"], "range": ["#000000","#ff0000","#0000ff","#ff00ff"]},
        "legend": {"title": null, "labelExpr": "{'H':'Hexane','E':'Ethyl ether','T':'Tetrahydrofuran','D':'Dichloromethane'}[datum.label]"}}
 }},
{"mark": {"type": "point", "shape": "square", "filled": true, "size": 64, "opacity": 1, "clip": true},
 "encoding": {
  "x": {"field": "t", "type": "quantitative", "axis": {"values": [5,10,15,25,30,35,45,50,55,65,70,75,85,90,95,105,110,115,125,130,135,145,150,155,165,170,175,185,190,195], "labels": false, "title": null, "domain": false, "tickSize": 3}},
  "y": {"field": "v", "type": "quantitative", "axis": null},
  "fill": {"field": "s", "type": "nominal",
        "scale": {"domain": ["H","E","T","D"], "range": ["#000000","#ff0000","#00ff00","#0000ff"]},
        "legend": {"title": null, "labelExpr": "{'H':'Hexane','E':'Ethyl ether','T':'Tetrahydrofuran','D':'Dichloromethane'}[datum.label]"}}
 }},
{"mark": {"type": "rect", "fill": "#000000", "xOffset": 5, "x2Offset": 5, "yOffset": 5, "y2Offset": 5},
 "encoding": {"x": {"datum": 34.0, "axis": null}, "x2": {"datum": 49.6}, "y": {"datum": 1694, "axis": null}, "y2": {"datum": 1059}}},
{"mark": {"type": "rect", "fill": "#ffffff", "stroke": "#888888", "strokeWidth": 1},
 "encoding": {"x": {"datum": 34.0, "axis": null}, "x2": {"datum": 49.6}, "y": {"datum": 1694, "axis": null}, "y2": {"datum": 1059}}},
{"mark": {"type": "text", "font": "DejaVu Sans", "fontWeight": "bold", "fontSize": 17, "align": "center", "baseline": "middle", "color": "#000000"},
 "encoding": {"x": {"datum": 41.8, "axis": null}, "y": {"datum": 1340, "axis": null}, "text": {"value": "B"}}}
],
"resolve": {"axis": {"x": "independent", "y": "independent"}}
}
],
"resolve": {"scale": {"stroke": "independent", "fill": "independent"}, "legend": {"stroke": "independent", "fill": "independent"}},
"config": {
 "view": {"stroke": "#a0a0a0", "strokeWidth": 1.5},
 "axis": {"grid": false, "domainColor": "#a0a0a0", "domainWidth": 1.5, "tickColor": "#707070", "tickWidth": 1, "labelFont": "DejaVu Sans", "labelFontSize": 14, "labelColor": "#000000", "titleFont": "DejaVu Sans", "titleFontWeight": "bold", "titleFontSize": 16, "titleColor": "#000000"},
 "legend": {"orient": "none", "legendX": 218.5, "legendY": 13, "padding": 0, "symbolType": "M-1,0H1M-0.3,-0.3H0.3V0.3H-0.3Z", "symbolSize": 1600, "symbolStrokeWidth": 2, "symbolOpacity": 1, "clipHeight": 20, "rowPadding": 3.7, "labelOffset": 5, "labelLimit": 300, "labelFont": "DejaVu Sans", "labelFontWeight": "bold", "labelFontSize": 17, "labelColor": "#000000"}
}
}
